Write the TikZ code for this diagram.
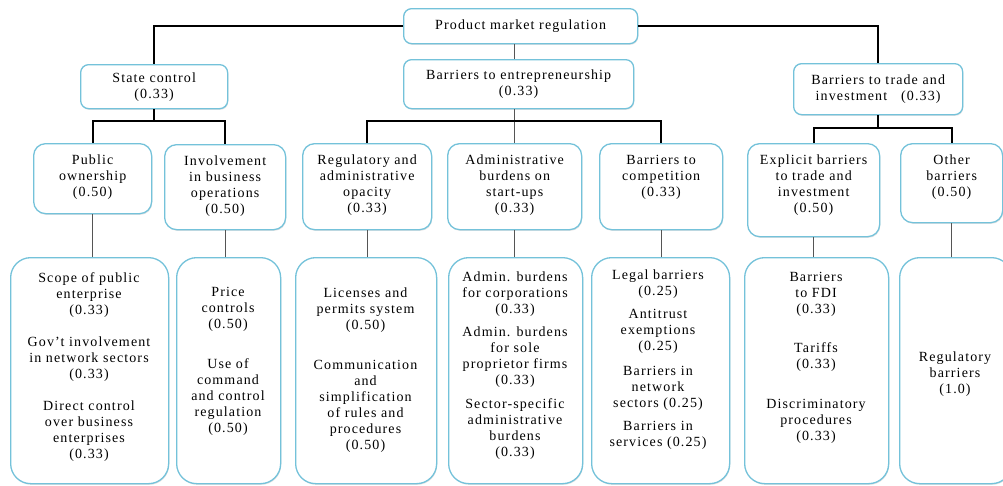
\documentclass[tikz,border=0pt]{standalone}
\usepackage{fontspec}
\setmainfont{Liberation Serif}[LetterSpace=8]
\usetikzlibrary{calc,shadows}
\definecolor{bord}{HTML}{74C2DA}
\definecolor{thinline}{HTML}{555555}
\begin{document}
\begin{tikzpicture}[x=1pt,y=-1pt,
  box/.style={draw=bord, line width=1.3pt, fill=white, rounded corners=#1,
    anchor=north west, inner sep=0pt, align=center,
    font=\fontsize{14}{16}\selectfont,
    drop shadow={shadow xshift=0.6pt,shadow yshift=-1.2pt,opacity=0.22}},
  box/.default=10pt,
  txt/.style={align=center, inner sep=0pt, anchor=north, font=\fontsize{14}{16}\selectfont},
  conn/.style={line width=1.9pt, black},
  thinconn/.style={line width=1.1pt, thinline}]
\useasboundingbox (0,0) rectangle (1003,485);
\clip (0,0) rectangle (1003,485);
% level 0 and 1
\node[box=8pt, minimum width=234pt, minimum height=35pt] (pmr) at (403,8) {Product market regulation};
\node[box=8pt, minimum width=147pt, minimum height=44pt] (sc) at (80,64) {State control\\(0.33)};
\node[box=8pt, minimum width=230pt, minimum height=49pt] (bte) at (403,59) {Barriers to entrepreneurship\\(0.33)};
\node[box=8pt, minimum width=169pt, minimum height=51pt] (bti) at (793,63) {Barriers to trade and\\investment\quad(0.33)};
% level 2
\node[box=12pt, minimum width=118pt, minimum height=70pt] (po) at (33,143) {};
\node[box=12pt, minimum width=121pt, minimum height=85pt] (ibo) at (164,144) {};
\node[box=12pt, minimum width=129pt, minimum height=86pt] (reg) at (302,143) {};
\node[box=12pt, minimum width=134pt, minimum height=86pt] (adm) at (447,143) {};
\node[box=12pt, minimum width=123pt, minimum height=86pt] (comp) at (599,143) {};
\node[box=12pt, minimum width=132pt, minimum height=93pt] (exp) at (747,143) {};
\node[box=12pt, minimum width=102pt, minimum height=79pt] (oth) at (900,143) {};
\node[txt] (pot) at ($(po.north)+(0,12)$) {Public\\ownership\\(0.50)};
\node[txt] (ibot) at ($(ibo.north)+(0,12)$) {Involvement\\in business\\operations\\(0.50)};
\node[txt] (regt) at ($(reg.north)+(0,12)$) {Regulatory and\\administrative\\opacity\\(0.33)};
\node[txt] (admt) at ($(adm.north)+(0,12)$) {Administrative\\burdens on\\start-ups\\(0.33)};
\node[txt] (compt) at ($(comp.north)+(0,12)$) {Barriers to\\competition\\(0.33)};
\node[txt] (expt) at ($(exp.north)+(0,12)$) {Explicit barriers\\to trade and\\investment\\(0.50)};
\node[txt] (otht) at ($(oth.north)+(0,12)$) {Other\\barriers\\(0.50)};
% level 3
\node[box=20pt, minimum width=158pt, minimum height=226pt] (b1) at (10,257) {};
\node[box=20pt, minimum width=104pt, minimum height=226pt] (b2) at (176,257) {};
\node[box=20pt, minimum width=141pt, minimum height=226pt] (b3) at (295,257) {};
\node[box=20pt, minimum width=134pt, minimum height=226pt] (b4) at (448,257) {};
\node[box=20pt, minimum width=138pt, minimum height=226pt] (b5) at (591,257) {};
\node[box=20pt, minimum width=144pt, minimum height=226pt] (b6) at (744,257) {};
\node[box=20pt, minimum width=112pt, minimum height=226pt] (b7) at (899,257) {};
\node[txt] (b1t) at (89,272) {Scope of public\\enterprise\\(0.33)\\[16pt]Gov't involvement\\in network sectors\\(0.33)\\[16pt]Direct control\\over business\\enterprises\\(0.33)};
\node[txt] (b2t) at (228,287) {Price\\controls\\(0.50)\\[24pt]Use of\\command\\and control\\regulation\\(0.50)};
\node[txt] (b3t) at (365.5,288) {Licenses and\\permits system\\(0.50)\\[24pt]Communication\\and\\simplification\\of rules and\\procedures\\(0.50)};
\node[txt] (b4t) at (515,272) {Admin. burdens\\for corporations\\(0.33)\\[7pt]Admin. burdens\\for sole\\proprietor firms\\(0.33)\\[8pt]Sector-specific\\administrative\\burdens\\(0.33)};
\node[txt] (b5t) at (658,270) {Legal barriers\\(0.25)\\[7pt]Antitrust\\exemptions\\(0.25)\\[9pt]Barriers in\\network\\sectors (0.25)\\[7pt]Barriers in\\services (0.25)};
\node[txt] (b6t) at (816,272) {Barriers\\to FDI\\(0.33)\\[23pt]Tariffs\\(0.33)\\[24pt]Discriminatory\\procedures\\(0.33)};
\node[txt] (b7t) at (955,352) {Regulatory\\barriers\\(1.0)};
% connectors level 0 -> 1
\draw[conn] (pmr.west) -| (sc.north);
\draw[conn] (pmr.east) -| (bti.north);
\draw[thinconn] (adm.north |- pmr.south) -- (adm.north |- bte.north);
% level 1 -> 2
\coordinate (j1) at ($(sc.south)+(0,12)$);
\coordinate (j2) at ($(adm.north |- bte.south)+(0,12)$);
\coordinate (j3) at ($(bti.south)+(0,13)$);
\draw[conn] (sc.south) -- (j1);
\draw[conn] (j1) -| (po.north);
\draw[conn] (j1) -| (ibo.north);
\draw[thinconn] (adm.north |- bte.south) -- (adm.north);
\draw[conn] (j2) -| (reg.north);
\draw[conn] (j2) -| (comp.north);
\draw[conn] (bti.south) -- (j3);
\draw[conn] (j3) -| (exp.north);
\draw[conn] (j3) -| (oth.north);
% level 2 -> 3
\draw[thinconn] (po.south) -- (po.south |- b1.north);
\draw[thinconn] (ibo.south) -- (ibo.south |- b2.north);
\draw[thinconn] (reg.south) -- (reg.south |- b3.north);
\draw[thinconn] (adm.south) -- (adm.south |- b4.north);
\draw[thinconn] (comp.south) -- (comp.south |- b5.north);
\draw[thinconn] (exp.south) -- (exp.south |- b6.north);
\draw[thinconn] (oth.south) -- (oth.south |- b7.north);
\end{tikzpicture}
\end{document}
